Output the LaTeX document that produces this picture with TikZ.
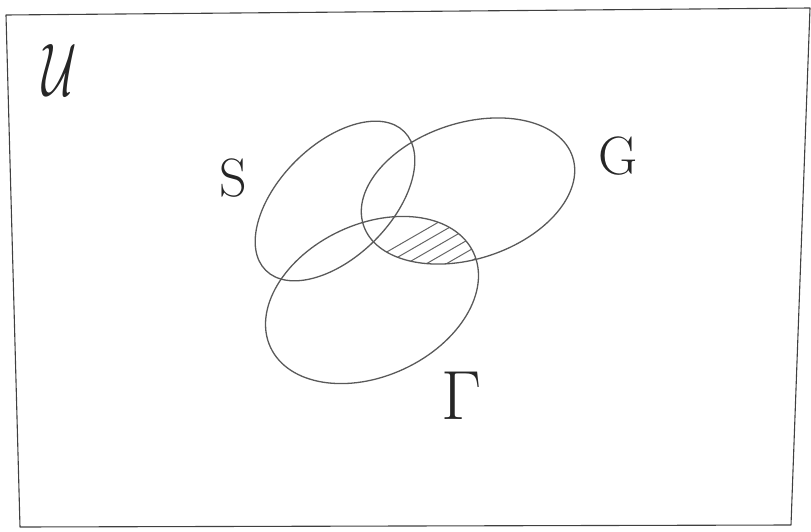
\documentclass[tikz,border=0pt]{standalone}
\usepackage{tikz}
\usetikzlibrary{positioning,calc}
\tikzset{
    vennframe/.style={draw=black!75, line width=1.1pt, line join=round},
    vennset/.style={draw=black!65, line width=1.3pt},
    vennhatch/.style={draw=black!60, line width=1pt, line cap=round},
    vennlabel/.style={inner sep=0pt, font=\fontsize{54}{58}\selectfont, text=black!85},
    vennbig/.style={inner sep=0pt, font=\Huge, text=black!85}
}

\begin{document}
\begin{tikzpicture}[x=1pt, y=-1pt]
        \useasboundingbox (0,0) rectangle (811,532);
        % universe
        \coordinate (ul) at (6,15);
        \coordinate (ur) at (810,8);
        \coordinate (lr) at (791,525);
        \coordinate (ll) at (20,527);
        \draw[vennframe] (ul) -- (ur) -- (lr) -- (ll) -- cycle;
        % set centres
        \coordinate (cS) at (335,201);
        \coordinate (cG) at (468,191);
        \coordinate (cT) at (372,300);
        % hatched part: G and Gamma
        \begin{scope}
            \clip[rotate around={18:(cG)}] (cG) ellipse [x radius=110, y radius=68];
            \clip[rotate around={25:(cT)}] (cT) ellipse [x radius=112, y radius=76];
            \foreach \k in {0,...,10}
                \draw[vennhatch] ($(300,302)+(\k*20,0)$) -- ++(170,-98);
        \end{scope}
        \draw[vennset, rotate around={45:(cS)}] (cS) ellipse [x radius=98, y radius=56];
        \draw[vennset, rotate around={18:(cG)}] (cG) ellipse [x radius=110, y radius=68];
        \draw[vennset, rotate around={25:(cT)}] (cT) ellipse [x radius=112, y radius=76];
        % labels
        \node[vennbig] (lU) at (60,70) {\scalebox{1.9}[3.0]{$\mathcal{U}$}};
        \node[vennlabel] (lS) at (233,178) {S};
        \node[vennlabel] (lG) at (618,156) {G};
        \node[vennbig] (lT) at (462,396) {\scalebox{2.8}{$\Gamma$}};
    \end{tikzpicture}
\end{document}
